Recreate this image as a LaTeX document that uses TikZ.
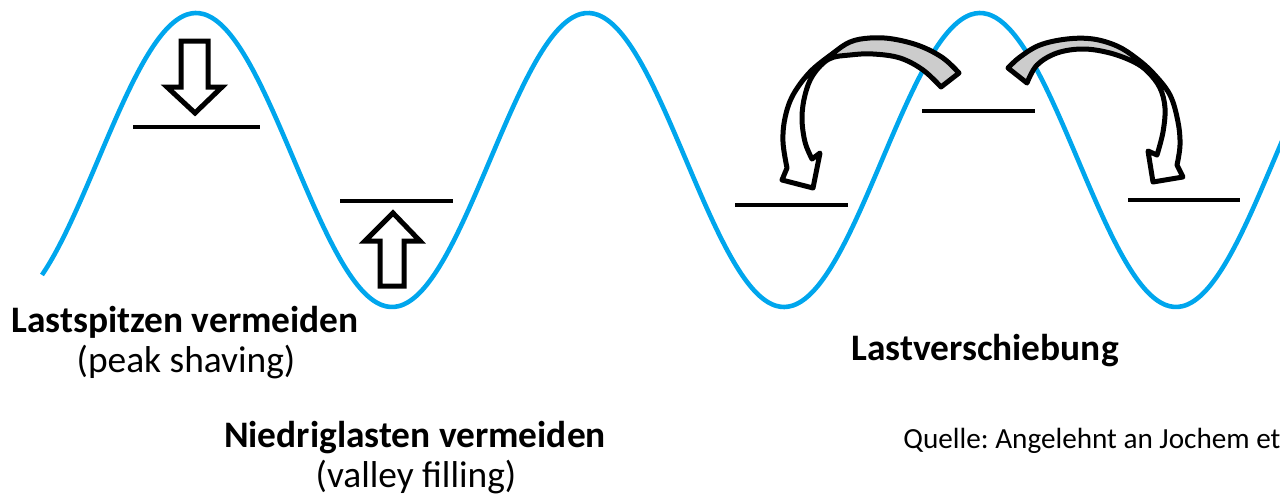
\documentclass[tikz,border=0pt]{standalone}
\usepackage{fontspec}
\setmainfont{Carlito}
\frenchspacing
\definecolor{waveblue}{RGB}{0,166,237}
\definecolor{arrowgray}{RGB}{204,204,204}
\newcommand{\ribbonLeft}{plot[smooth,tension=0.6] coordinates {(959,73) (943,58) (920,46) (893,39) (870,38) (850,42) (832,54) (810,72) (793,95) (785,118) (783,142) (787,168)}
  -- (782,180) -- (813,188) -- (820,153) -- (812,159)
  -- plot[smooth,tension=0.6] coordinates {(812,159) (805,142) (802,118) (805,95) (813,75) (829,59) (850,55) (873,54) (900,58) (923,70) (941,87)} -- cycle}
\newcommand{\ribbonLeftBack}{plot[smooth,tension=0.6] coordinates {(959,73) (943,58) (920,46) (893,39) (870,38) (850,42) (832,54)}
  -- plot[smooth,tension=0.6] coordinates {(829,59) (850,55) (873,54) (900,58) (923,70) (941,87)} -- cycle}
\newcommand{\ribbonRight}{plot[smooth,tension=0.6] coordinates {(1008,68) (1020,57) (1040,45) (1067,39) (1093,39) (1117,46) (1136,58) (1153,73) (1170,95) (1178,122) (1180,145) (1177,165)}
  -- (1183,177) -- (1153,182) -- (1148,151) -- (1157,155)
  -- plot[smooth,tension=0.6] coordinates {(1157,155) (1163,132) (1165,108) (1160,88) (1148,72) (1134,62) (1110,53) (1083,49) (1057,53) (1037,65) (1027,83)} -- cycle}
\newcommand{\ribbonRightBack}{plot[smooth,tension=0.6] coordinates {(1008,68) (1020,57) (1040,45) (1067,39) (1093,39) (1117,46) (1136,58)}
  -- plot[smooth,tension=0.6] coordinates {(1134,62) (1110,53) (1083,49) (1057,53) (1037,65) (1027,83)} -- cycle}
\begin{document}
\begin{tikzpicture}[x=0.5pt,y=-0.5pt,
  wave/.style={draw=waveblue, line width=2.3pt},
  level/.style={draw=black, line width=2.3pt},
  blockarrow/.style={draw=black, line width=2.5pt, fill=white, line join=miter},
  ribbon/.style={draw=black, line width=2.5pt, line join=round},
  bigtext/.style={font=\fontsize{18.7}{22}\selectfont, anchor=base, inner sep=0pt},
  smalltext/.style={font=\fontsize{14.6}{17}\selectfont, anchor=base west, inner sep=0pt}]
\useasboundingbox (0,0) rectangle (1280,498);
\begin{scope}
\clip (0,0) rectangle (1280,498);
% load curve
\draw[wave] plot[domain=42:1282, samples=300, smooth] (\x, {160-147*cos(0.9183673*(\x-196))});
\end{scope}
% levels
\draw[level] (133,127) -- (260,127);
\draw[level] (340,201) -- (453,201);
\draw[level] (735,205) -- (848,205);
\draw[level] (922,111) -- (1035,111);
\draw[level] (1128,200) -- (1240,200);
% straight block arrows
\draw[blockarrow] (181,41) -- (208,41) -- (208,87) -- (222,87) -- (195,113) -- (167,87) -- (181,87) -- cycle;
\draw[blockarrow] (380,286) -- (404,286) -- (404,241) -- (420,241) -- (393,213) -- (365,241) -- (380,241) -- cycle;
% curved arrows
\fill[white] \ribbonLeft;
\fill[arrowgray] \ribbonLeftBack;
\draw[ribbon] \ribbonLeft;
\fill[white] \ribbonRight;
\fill[arrowgray] \ribbonRightBack;
\draw[ribbon] \ribbonRight;
% texts
\node[bigtext] (lastspitzen) at (185,332) {\bfseries Lastspitzen vermeiden};
\node[bigtext] (peak) at (186,372) {(peak shaving)};
\node[bigtext] (niedrig) at (415,447) {\bfseries Niedriglasten vermeiden};
\node[bigtext] (valley) at (416,487) {(valley filling)};
\node[bigtext] (verschiebung) at (985,360) {\bfseries Lastverschiebung};
\node[smalltext] (quelle) at (903,448) {Quelle: Angelehnt an Jochem et};
\end{tikzpicture}
\end{document}
